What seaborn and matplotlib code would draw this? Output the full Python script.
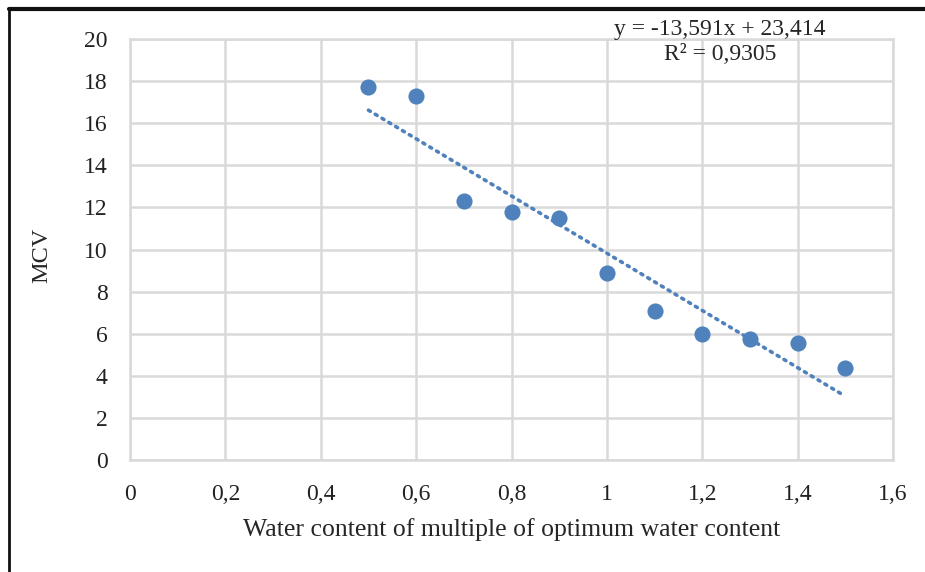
import numpy as np
import matplotlib
matplotlib.use("Agg")
import matplotlib.pyplot as plt
import pandas as pd
import seaborn as sns
from matplotlib.lines import Line2D

# data
water_ratio = [0.5, 0.6, 0.7, 0.8, 0.9, 1.0, 1.1, 1.2, 1.3, 1.4, 1.5]
mcv = [17.7, 17.3, 12.3, 11.8, 11.5, 8.9, 7.1, 6.0, 5.75, 5.55, 4.35]
slope = -13.591
intercept = 23.414
r2_text = "R² = 0,9305"
eq_text = "y = -13,591x + 23,414"
x_ticks = [0, 0.2, 0.4, 0.6, 0.8, 1.0, 1.2, 1.4, 1.6]
y_ticks = list(range(0, 21, 2))

sns.set_theme(style="white")
plt.rcParams['font.family'] = ['Liberation Serif', 'DejaVu Serif']

df = pd.DataFrame({'ratio': water_ratio, 'MCV': mcv})
trend_x = [min(water_ratio), max(water_ratio)]
trend = pd.DataFrame({'ratio': trend_x, 'MCV': [slope * v + intercept for v in trend_x]})

fig = plt.figure(figsize=(9.25, 5.72), dpi=100)
ax = fig.add_axes([130 / 925, 1 - 460 / 572, (893 - 130) / 925, (460 - 39) / 572])

blue = '#4f81bd'
sns.lineplot(data=trend, x='ratio', y='MCV', ax=ax, color=blue, linestyle=(0, (0.6, 1.6)),
             linewidth=2.6, dash_capstyle='round', zorder=3)
sns.scatterplot(data=df, x='ratio', y='MCV', ax=ax, color=blue, s=135, edgecolor=blue,
                linewidth=0, zorder=4)

ax.set_xlim(0, 1.6)
ax.set_ylim(0, 20)
ax.set_xticks(x_ticks)
ax.set_yticks(y_ticks)
ax.set_xticklabels([f"{t:g}".replace('.', ',') for t in x_ticks], fontsize=17)
ax.set_yticklabels([str(t) for t in y_ticks], fontsize=17)
ax.tick_params(axis='both', length=0, colors='#222222')
ax.tick_params(axis='x', pad=17)
ax.tick_params(axis='y', pad=16)
ax.grid(True, color='#d9d9d9', linewidth=1.8)
for sp in ax.spines.values():
    sp.set_color('#d9d9d9')
    sp.set_linewidth(1.8)

ax.set_xlabel("Water content of multiple of optimum water content", fontsize=18.5, labelpad=10)
ax.set_ylabel("MCV", fontsize=17.5)
ax.yaxis.set_label_coords(-0.102, 0.485)

fig.text(720 / 925, 1 - 29 / 572, eq_text, fontsize=17, ha='center', va='center')
fig.text(720 / 925, 1 - 55 / 572, r2_text, fontsize=17, ha='center', va='center')

# frame around the figure (top and left edges visible)
fig.add_artist(Line2D([9 / 925, 1], [1 - 9 / 572, 1 - 9 / 572], transform=fig.transFigure,
                      color='#111111', linewidth=3))
fig.add_artist(Line2D([9 / 925, 9 / 925], [0, 1 - 9 / 572], transform=fig.transFigure,
                      color='#111111', linewidth=2))

fig.savefig("out.png", dpi=100, facecolor='white')
